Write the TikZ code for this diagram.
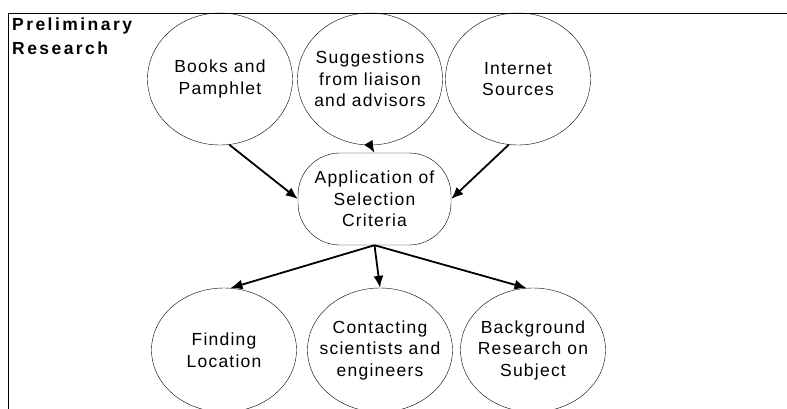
\documentclass[tikz,border=0pt]{standalone}
\usepackage{fontspec}
\setmainfont{Liberation Sans}[LetterSpace=7]
\newfontfamily\headfont{Liberation Sans}[LetterSpace=14]
\usetikzlibrary{shapes.geometric,arrows.meta}
\tikzset{
	bubble/.style={draw=black, thin, ellipse, minimum width=145pt, minimum height=132pt, inner xsep=-30pt, inner ysep=-20pt, align=center, font=\fontsize{17.5}{21.5}\selectfont},
	flow/.style={black, line width=1.8pt, -{Latex[length=12pt,width=10pt]}}
}
\begin{document}
\begin{tikzpicture}[x=1pt, y=-1pt]
	\useasboundingbox (0,0) rectangle (787,409);
	\draw[black, thin](8,409)--(8,13)--(787,13);
	\node[anchor=north west, align=left, font=\headfont\bfseries\fontsize{17.5}{24}\selectfont, inner sep=0pt] (title) at (12,18){Preliminary\\Research};
	\node[bubble] (books) at (220,79){Books and\\Pamphlet};
	\node[bubble] (sugg) at (370,79){Suggestions\\from liaison\\and advisors};
	\node[bubble] (inet) at (518,79){Internet\\Sources};
	\node[draw=black, thin, rounded corners=42pt, minimum width=153pt, minimum height=92pt, inner sep=0pt, align=center, font=\fontsize{17.5}{21.5}\selectfont] (crit) at (374.5,199){Application of\\Selection\\Criteria};
	\node[bubble, minimum height=124pt] (find) at (224,350){Finding\\Location};
	\node[bubble, minimum height=124pt] (cont) at (380,350){Contacting\\scientists and\\engineers};
	\node[bubble, minimum height=124pt] (back) at (533,350){Background\\Research on\\Subject};
	\draw[flow](books.-82)--(crit.west);
	\draw[flow](sugg.south)--(crit.north);
	\draw[flow](inet.-98)--(crit.east);
	\draw[flow](crit.south)--(find.84);
	\draw[flow](crit.south)--(cont.north);
	\draw[flow](crit.south)--(back.96);
\end{tikzpicture}
\end{document}
